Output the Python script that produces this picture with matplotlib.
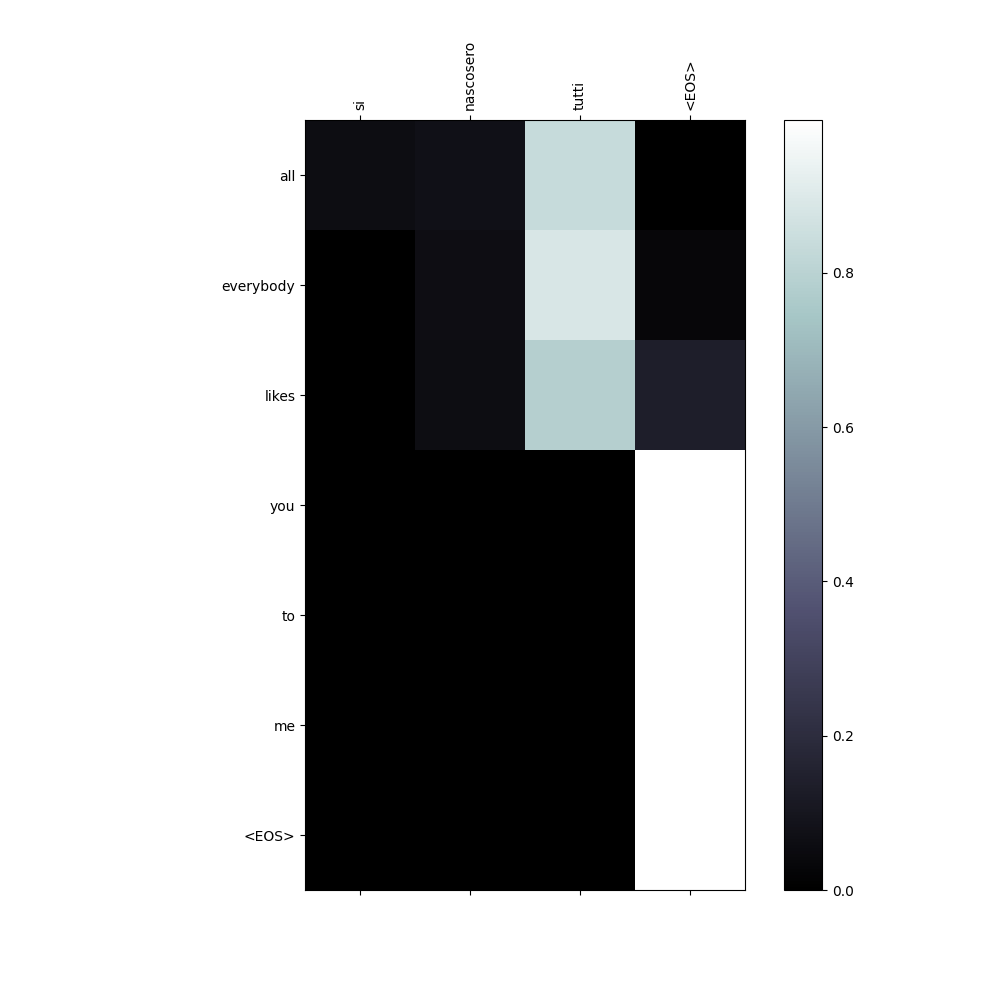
import matplotlib
matplotlib.use("Agg")
import matplotlib.pyplot as plt
import numpy as np

input_words = ["si", "nascosero", "tutti", "<EOS>"]
output_words = ["all", "everybody", "likes", "you", "to", "me", "<EOS>"]

row_all = [0.062, 0.075, 0.838, 0.0]
row_everybody = [0.003, 0.065, 0.886, 0.035]
row_likes = [0.002, 0.060, 0.785, 0.140]
row_you = [0.0005, 0.0005, 0.0005, 0.998]
row_to = [0.0003, 0.0003, 0.0003, 0.998]
row_me = [0.0003, 0.0003, 0.0003, 0.998]
row_eos = [0.0003, 0.0003, 0.0003, 0.998]

attentions = np.array([row_all, row_everybody, row_likes, row_you, row_to, row_me, row_eos])

fig = plt.figure(figsize=(10, 10), dpi=100)
ax = fig.add_subplot(111)
cax = ax.matshow(attentions, cmap="bone")
fig.colorbar(cax)

ax.set_xticks(range(len(input_words)))
ax.set_xticklabels(input_words, rotation=90)
ax.set_yticks(range(len(output_words)))
ax.set_yticklabels(output_words)

fig.savefig("out.png", dpi=100)
